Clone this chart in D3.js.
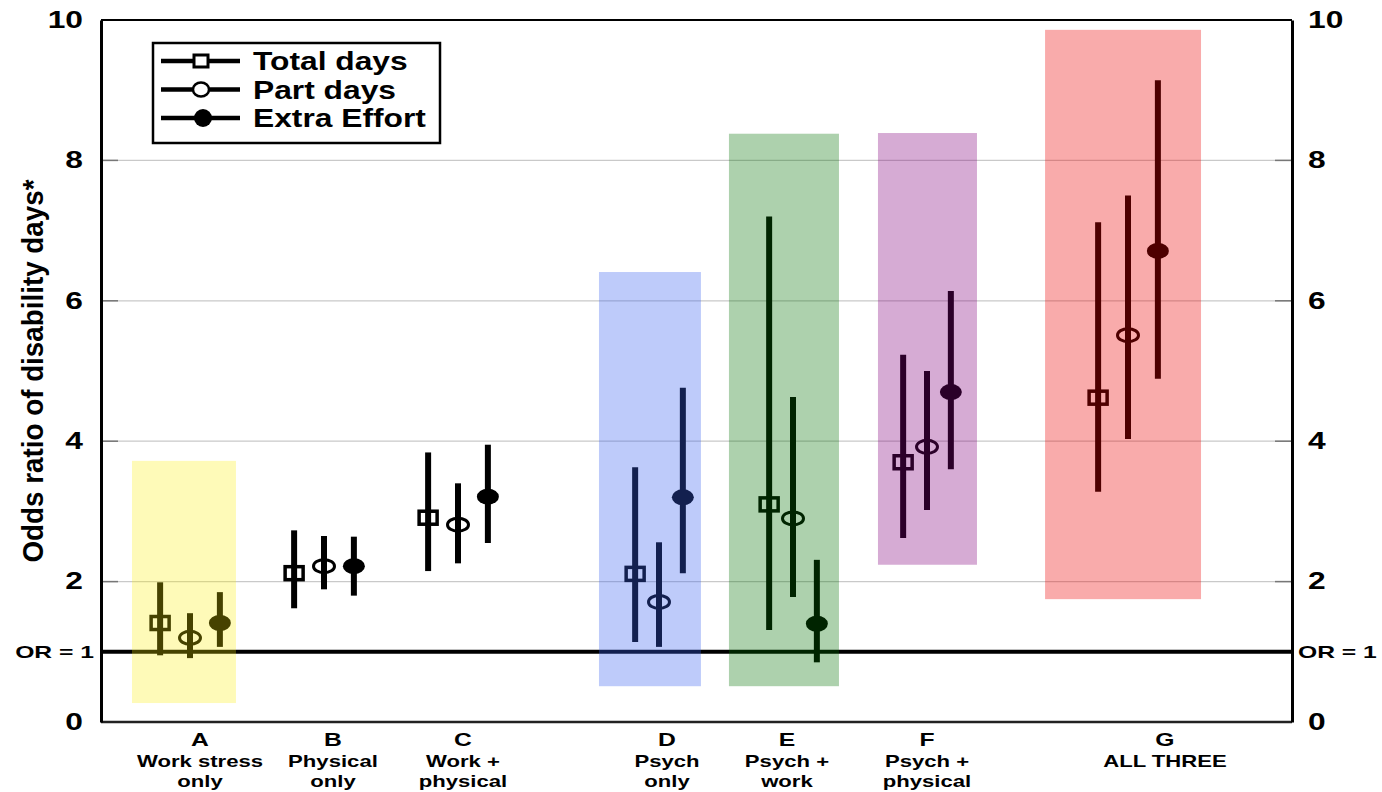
<!DOCTYPE html>
<html>
<head>
<meta charset="utf-8">
<script src="https://cdn.jsdelivr.net/npm/d3@7"></script>
<style>
  body { margin: 0; background: #fff; }
  text { font-family: "Liberation Sans", Arial, sans-serif; font-weight: bold; fill: #000; }
</style>
</head>
<body>
<script>
var width = 1382, height = 792;

// groups along the x axis
var groups = ["A", "B", "C", "D", "E", "F", "G"];
var groupText = [["Work stress", "only"], ["Physical", "only"], ["Work +", "physical"],
                 ["Psych", "only"], ["Psych +", "work"], ["Psych +", "physical"], ["ALL THREE"]];
var groupPos = [1, 2, 3, 4.5, 5.5, 6.5, 8];
var labelPos = [1.075, 2.067, 3.037, 4.56, 5.455, 6.5, 8.276];
var spread = [0.223, 0.223, 0.223, 0.178, 0.178, 0.178, 0.223];

var series = ["Total days", "Part days", "Extra Effort"];

// odds ratios with lower / upper limits
var totalOR = [1.41, 2.12, 2.91, 2.11, 3.10, 3.70, 4.62];
var totalLo = [0.95, 1.62, 2.15, 1.14, 1.31, 2.62, 3.28];
var totalHi = [1.99, 2.73, 3.84, 3.63, 7.20, 5.23, 7.12];

var partOR = [1.20, 2.22, 2.81, 1.71, 2.90, 3.92, 5.51];
var partLo = [0.91, 1.89, 2.26, 1.07, 1.78, 3.02, 4.03];
var partHi = [1.55, 2.65, 3.40, 2.56, 4.63, 5.00, 7.50];

var extraOR = [1.41, 2.22, 3.21, 3.20, 1.40, 4.70, 6.71];
var extraLo = [1.07, 1.80, 2.55, 2.12, 0.85, 3.60, 4.89];
var extraHi = [1.85, 2.64, 3.95, 4.76, 2.31, 6.14, 9.14];

// shaded highlight bands
var bandGroup = ["A", "D", "E", "F", "G"];
var bandX0 = [0.567, 4.052, 5.022, 6.134, 7.381];
var bandX1 = [1.343, 4.813, 5.843, 6.873, 8.545];
var bandLo = [0.27, 0.51, 0.51, 2.24, 1.75];
var bandHi = [3.72, 6.41, 8.38, 8.39, 9.86];

var yTicks = [0, 2, 4, 6, 8, 10];
var gridTicks = [2, 4, 6, 8];
var refValue = 1, refLabel = "OR = 1";

var bandColor = ["rgb(252,237,0)", "rgb(58,97,240)", "rgb(0,112,0)", "rgb(130,0,124)", "rgb(238,0,0)"];
var bandAlpha = [0.28, 0.33, 0.32, 0.33, 0.33];

var plotLeft = 101, plotRight = 1292, plotTop = 20, plotBottom = 722;

var x = d3.scaleLinear().domain([1, 8]).range([190, 1128]);
var y = d3.scaleLinear().domain([0, 10]).range([plotBottom, plotTop]);

var svg = d3.select("body").append("svg")
    .attr("width", width)
    .attr("height", height);

// stretch text wider, the original is drawn wide
function stretch(sel, k) {
  sel.each(function() {
    var w = this.getComputedTextLength();
    d3.select(this).attr("textLength", w * k).attr("lengthAdjust", "spacingAndGlyphs");
  });
}

// grid
svg.append("g").selectAll("line").data(gridTicks).enter().append("line")
    .attr("x1", plotLeft).attr("x2", plotRight)
    .attr("y1", function(d) { return y(d); }).attr("y2", function(d) { return y(d); })
    .style("stroke", "#c9c9c9").style("stroke-width", 1.2);
svg.append("g").selectAll("line").data(gridTicks.concat([0, 10])).enter().append("line")
    .attr("x1", plotLeft).attr("x2", plotLeft + 17)
    .attr("y1", function(d) { return y(d); }).attr("y2", function(d) { return y(d); })
    .style("stroke", "#777").style("stroke-width", 1.5);
svg.append("g").selectAll("line").data(gridTicks.concat([0, 10])).enter().append("line")
    .attr("x1", plotRight - 17).attr("x2", plotRight)
    .attr("y1", function(d) { return y(d); }).attr("y2", function(d) { return y(d); })
    .style("stroke", "#777").style("stroke-width", 1.5);

// frame
svg.append("line").attr("x1", plotLeft).attr("x2", plotRight).attr("y1", y(10)).attr("y2", y(10))
    .style("stroke", "#000").style("stroke-width", 2);
svg.append("line").attr("x1", plotLeft).attr("x2", plotRight).attr("y1", y(0)).attr("y2", y(0))
    .style("stroke", "#222").style("stroke-width", 2.5);

// reference line
svg.append("line").attr("x1", plotLeft).attr("x2", plotRight).attr("y1", y(refValue)).attr("y2", y(refValue))
    .style("stroke", "#000").style("stroke-width", 4);

// axes
var yl = svg.append("g").attr("transform", "translate(" + plotLeft + ",0)")
    .call(d3.axisLeft(y).tickValues(yTicks).tickSize(0).tickPadding(18));
var yr = svg.append("g").attr("transform", "translate(" + plotRight + ",0)")
    .call(d3.axisRight(y).tickValues(yTicks).tickSize(0).tickPadding(16));
[yl, yr].forEach(function(a) {
  a.attr("font-family", null).attr("font-size", null);
  a.select(".domain").style("stroke", "#000").style("stroke-width", 3);
  a.selectAll("text").style("font-size", "23px");
  stretch(a.selectAll("text"), 1.38);
});

svg.append("text").attr("x", plotLeft - 7).attr("y", y(refValue)).attr("dy", "0.35em")
    .attr("text-anchor", "end").style("font-size", "17px").text(refLabel)
    .call(stretch, 1.45);
svg.append("text").attr("x", plotRight + 6).attr("y", y(refValue)).attr("dy", "0.35em")
    .attr("text-anchor", "start").style("font-size", "17px").text(refLabel)
    .call(stretch, 1.45);

// y title
svg.append("text")
    .attr("transform", "translate(43," + ((plotTop + plotBottom) / 2) + ") rotate(-90)")
    .attr("text-anchor", "middle")
    .style("font-size", "29px")
    .attr("textLength", 383).attr("lengthAdjust", "spacingAndGlyphs")
    .text("Odds ratio of disability days*");

// error bars and markers
var sets = [
  { name: series[0], or: totalOR, lo: totalLo, hi: totalHi, k: -1 },
  { name: series[1], or: partOR, lo: partLo, hi: partHi, k: 0 },
  { name: series[2], or: extraOR, lo: extraLo, hi: extraHi, k: 1 }
];

function drawMarker(g, kind, cx, cy) {
  if (kind == 0) {
    g.append("rect").attr("x", cx - 9).attr("y", cy - 6.5).attr("width", 18).attr("height", 13)
        .style("fill", "none").style("stroke", "#000").style("stroke-width", 3.5);
  } else if (kind == 1) {
    g.append("ellipse").attr("cx", cx).attr("cy", cy).attr("rx", 10.5).attr("ry", 6.5)
        .style("fill", "none").style("stroke", "#000").style("stroke-width", 3);
  } else {
    g.append("ellipse").attr("cx", cx).attr("cy", cy).attr("rx", 11).attr("ry", 8)
        .style("fill", "#000");
  }
}

var marks = svg.append("g");
sets.forEach(function(s, si) {
  groups.forEach(function(gname, i) {
    var cx = x(groupPos[i] + s.k * spread[i]);
    marks.append("line")
        .attr("x1", cx).attr("x2", cx)
        .attr("y1", y(s.lo[i])).attr("y2", y(s.hi[i]))
        .style("stroke", "#000").style("stroke-width", 6);
    drawMarker(marks, si, cx, y(s.or[i]));
  });
});

// translucent bands over everything inside the plot
svg.append("g").selectAll("rect").data(bandGroup).enter().append("rect")
    .attr("x", function(d, i) { return x(bandX0[i]); })
    .attr("width", function(d, i) { return x(bandX1[i]) - x(bandX0[i]); })
    .attr("y", function(d, i) { return y(bandHi[i]); })
    .attr("height", function(d, i) { return y(bandLo[i]) - y(bandHi[i]); })
    .style("fill", function(d, i) { return bandColor[i]; })
    .style("fill-opacity", function(d, i) { return bandAlpha[i]; });

// legend
var legend = svg.append("g");
legend.append("rect").attr("x", 153).attr("y", 43).attr("width", 287).attr("height", 100)
    .style("fill", "#fff").style("stroke", "#000").style("stroke-width", 2.5);
series.forEach(function(name, i) {
  var ly = 61 + i * 28.5;
  legend.append("line").attr("x1", 161).attr("x2", 240).attr("y1", ly).attr("y2", ly)
      .style("stroke", "#000").style("stroke-width", 4.5);
  if (i == 0) {
    legend.append("rect").attr("x", 194).attr("y", ly - 6).attr("width", 14).attr("height", 12)
        .style("fill", "#fff").style("stroke", "#000").style("stroke-width", 3);
  } else if (i == 1) {
    legend.append("ellipse").attr("cx", 201).attr("cy", ly).attr("rx", 8).attr("ry", 7)
        .style("fill", "#fff").style("stroke", "#000").style("stroke-width", 2.5);
  } else {
    legend.append("ellipse").attr("cx", 203).attr("cy", ly).attr("rx", 9).attr("ry", 9)
        .style("fill", "#000");
  }
  legend.append("text").attr("x", 253).attr("y", ly).attr("dy", "0.36em")
      .style("font-size", "25px").text(name).call(stretch, 1.27);
});

// x labels
var xl = svg.append("g");
groups.forEach(function(gname, i) {
  var cx = x(labelPos[i]);
  xl.append("text").attr("x", cx).attr("y", 746).attr("text-anchor", "middle")
      .style("font-size", "19px").text(gname).call(stretch, 1.3);
  groupText[i].forEach(function(t, j) {
    xl.append("text").attr("x", cx).attr("y", 767 + j * 20).attr("text-anchor", "middle")
        .style("font-size", "17px").text(t).call(stretch, 1.3);
  });
});
</script>
</body>
</html>
